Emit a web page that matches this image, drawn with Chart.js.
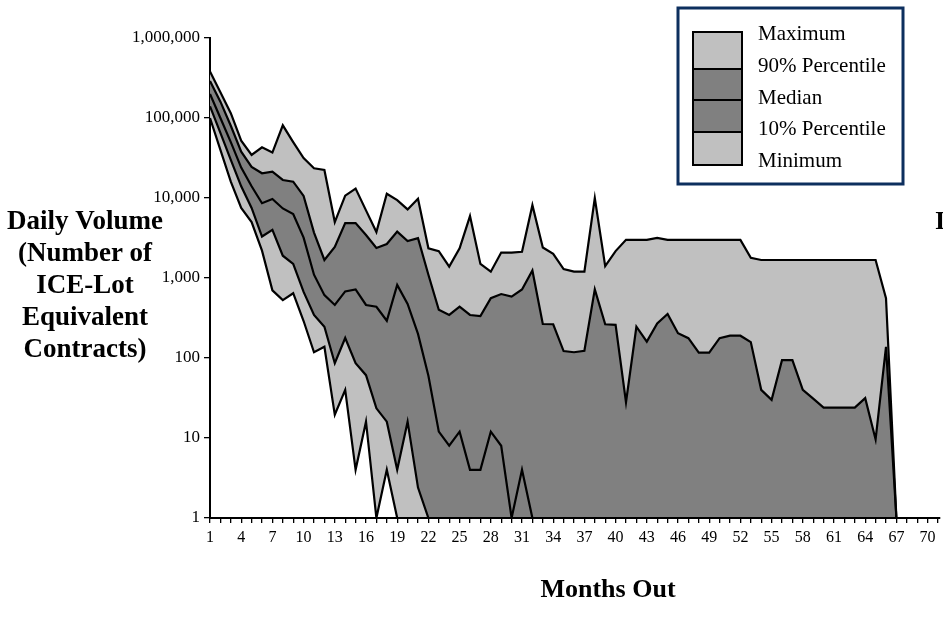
<!DOCTYPE html>
<html>
<head>
<meta charset="utf-8">
<script src="https://cdn.jsdelivr.net/npm/chart.js@4"></script>
<style>
  html, body { margin: 0; padding: 0; background: #fff; overflow: hidden; }
</style>
</head>
<body>
<canvas id="myChart" width="943" height="630"></canvas>
<script>
    // months out 1..67
    var months = [];
    for (var m = 1; m <= 67; m++) months.push(m);

    var maximum = [380000, 210000, 115000, 52000, 34500, 43000, 37000, 81000, 50000, 31500,
        23500, 22400, 5000, 10700, 13100, 7000, 3750, 11300, 9400, 7200,
        9800, 2350, 2170, 1390, 2350, 5950, 1500, 1200, 2080, 2080,
        2130, 8140, 2410, 2000, 1290, 1200, 1200, 10000, 1410, 2170,
        3000, 3000, 3000, 3170, 3000, 3000, 3000, 3000, 3000, 3000,
        3000, 3000, 1790, 1680, 1680, 1680, 1680, 1680, 1680, 1680,
        1680, 1680, 1680, 1680, 1680, 560, 1];
    var p90 = [290000, 160000, 80000, 38000, 24500, 20400, 21400, 16800, 16000, 10600,
        3700, 1680, 2450, 4850, 4850, 3450, 2370, 2660, 3800, 2900,
        3150, 1100, 400, 345, 437, 345, 335, 560, 630, 585,
        720, 1240, 266, 264, 122, 118, 123, 720, 264, 260,
        28, 246, 160, 270, 355, 204, 177, 117, 117, 177,
        190, 190, 158, 40, 30, 94, 94, 40, 31, 24,
        24, 24, 24, 31.5, 9.6, 138, 1];
    var median = [200000, 100000, 50000, 24000, 14000, 8600, 9700, 7400, 6300, 3200,
        1100, 610, 460, 680, 720, 460, 437, 292, 820, 475,
        200, 60, 12, 8, 12, 4, 4, 12, 8, 1,
        4, 1, 1, 1, 1, 1, 1, 1, 1, 1,
        1, 1, 1, 1, 1, 1, 1, 1, 1, 1,
        1, 1, 1, 1, 1, 1, 1, 1, 1, 1,
        1, 1, 1, 1, 1, 1, 1];
    var p10 = [140000, 65000, 30000, 14000, 7500, 3300, 4000, 1900, 1500, 670,
        345, 246, 86, 178, 86, 61, 23.5, 16, 4, 16,
        2.4, 1, 1, 1, 1, 1, 1, 1, 1, 1,
        1, 1, 1, 1, 1, 1, 1, 1, 1, 1,
        1, 1, 1, 1, 1, 1, 1, 1, 1, 1,
        1, 1, 1, 1, 1, 1, 1, 1, 1, 1,
        1, 1, 1, 1, 1, 1, 1];
    var minimum = [100000, 40000, 16000, 7500, 5000, 2200, 700, 530, 645, 290,
        118, 138, 19.5, 40, 4, 16, 1, 4, 1, 1,
        1, 1, 1, 1, 1, 1, 1, 1, 1, 1,
        1, 1, 1, 1, 1, 1, 1, 1, 1, 1,
        1, 1, 1, 1, 1, 1, 1, 1, 1, 1,
        1, 1, 1, 1, 1, 1, 1, 1, 1, 1,
        1, 1, 1, 1, 1, 1, 1];

    var yTicks = [1, 10, 100, 1000, 10000, 100000, 1000000];
    var seriesNames = ['Maximum', '90% Percentile', 'Median', '10% Percentile', 'Minimum'];
    var yTitle = ['Daily Volume', '(Number of', 'ICE-Lot', 'Equivalent', 'Contracts)'];
    var xTitle = 'Months Out';

    var LIGHT = '#c0c0c0';
    var DARK = '#808080';

    function pts(arr) {
        return arr.map(function (v, i) { return {x: months[i], y: v}; });
    }

    // draws the free-standing texts and the band legend box
    var overlay = {
        id: 'overlay',
        afterDraw: function (chart) {
            var c = chart.ctx;
            c.save();
            c.fillStyle = '#000';
            c.font = 'bold 27px "Liberation Serif"';
            c.textAlign = 'center';
            c.textBaseline = 'middle';
            yTitle.forEach(function (t, i) { c.fillText(t, 85, 222 + i * 32); });
            c.font = 'bold 26px "Liberation Serif"';
            c.fillText(xTitle, 608, 590);
            c.textAlign = 'left';
            c.fillText('I', 935, 222);

            // legend
            c.fillStyle = '#fff';
            c.fillRect(678, 8, 225, 176);
            c.lineWidth = 3;
            c.strokeStyle = '#0d2f5e';
            c.strokeRect(678, 8, 225, 176);
            var rows = [[32, 69, LIGHT], [69, 100, DARK], [100, 132, DARK], [132, 165, LIGHT]];
            c.lineWidth = 2;
            c.strokeStyle = '#000';
            rows.forEach(function (r) {
                c.fillStyle = r[2];
                c.fillRect(693, r[0], 49, r[1] - r[0]);
                c.strokeRect(693, r[0], 49, r[1] - r[0]);
            });
            c.fillStyle = '#000';
            c.font = '21px "Liberation Serif"';
            var ty = [34, 66.5, 98.5, 129.5, 161.5];
            seriesNames.forEach(function (t, i) { c.fillText(t, 758, ty[i]); });
            c.restore();
        }
    };

    function loadChart() {
        var ctx = document.getElementById('myChart').getContext('2d');

        var bandFill = [LIGHT, DARK, DARK, LIGHT];
        var all = [maximum, p90, median, p10, minimum];
        var datasets = all.map(function (arr, i) {
            return {
                label: seriesNames[i],
                data: pts(arr),
                borderColor: '#000',
                borderWidth: 2.2,
                pointRadius: 0,
                lineTension: 0,
                backgroundColor: i < 4 ? bandFill[i] : 'transparent',
                fill: i < 4 ? '+1' : false
            };
        });

        new Chart(ctx, {
            type: 'line',
            data: {datasets: datasets},
            options: {
                responsive: false,
                animation: false,
                layout: {padding: {top: 38, left: 0, right: 0, bottom: 0}},
                scales: {
                    x: {
                        type: 'linear',
                        min: 1,
                        max: 71.14,
                        afterBuildTicks: function (axis) {
                            var t = [];
                            for (var k = 1; k <= 71; k++) t.push({value: k});
                            axis.ticks = t;
                        },
                        afterFit: function (scale) { scale.height = 112; },
                        border: {color: '#000', width: 2},
                        grid: {drawOnChartArea: false, drawTicks: true, tickLength: 5, color: '#000', lineWidth: 1.3},
                        ticks: {
                            autoSkip: false,
                            maxRotation: 0,
                            padding: 5,
                            color: '#000',
                            font: {family: 'Liberation Serif', size: 16},
                            callback: function (v) { return (v - 1) % 3 === 0 ? String(v) : ''; }
                        }
                    },
                    y: {
                        type: 'logarithmic',
                        min: 1,
                        max: 1000000,
                        afterBuildTicks: function (axis) {
                            axis.ticks = yTicks.map(function (v) { return {value: v}; });
                        },
                        afterFit: function (scale) { scale.width = 210; },
                        border: {color: '#000', width: 2},
                        grid: {drawOnChartArea: false, drawTicks: true, tickLength: 6, color: '#000', lineWidth: 1.3},
                        ticks: {
                            padding: 4,
                            color: '#000',
                            font: {family: 'Liberation Serif', size: 17},
                            callback: function (v) { return Number(v).toLocaleString('en-US'); }
                        }
                    }
                },
                plugins: {
                    legend: {display: false},
                    tooltip: {enabled: false},
                    filler: {drawTime: 'beforeDatasetsDraw'}
                }
            },
            plugins: [overlay]
        });
    }

    loadChart();
</script>
</body>
</html>
